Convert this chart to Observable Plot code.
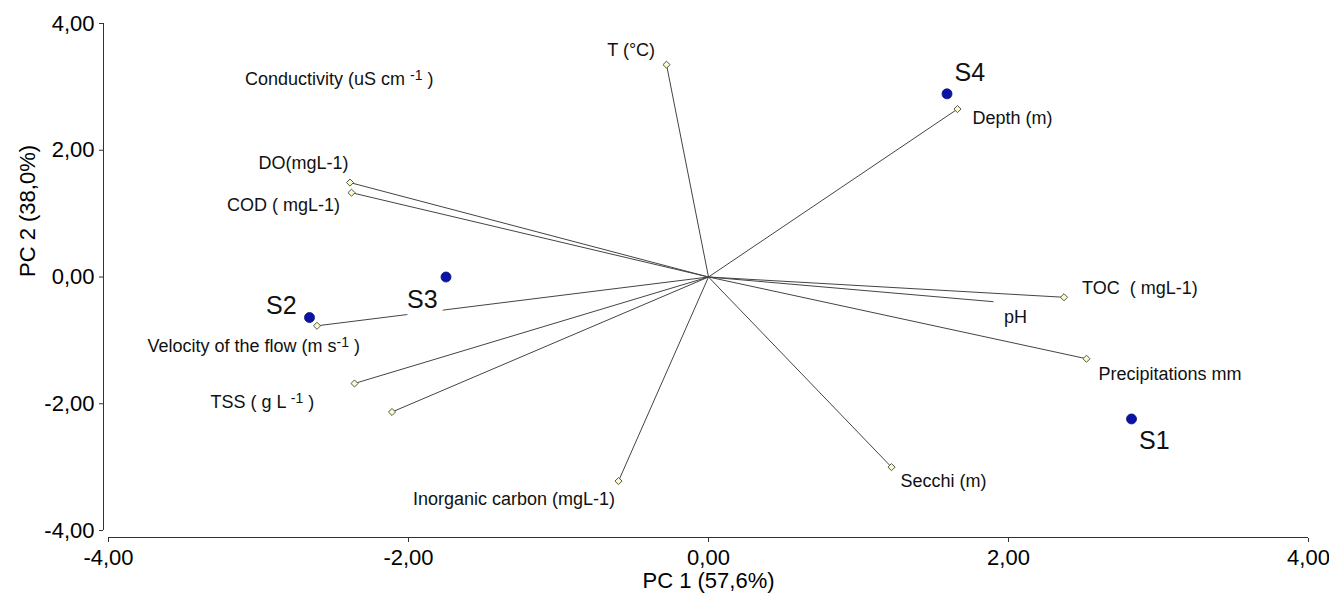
<!DOCTYPE html>
<html>
<head>
<meta charset="utf-8">
<script src="https://cdn.jsdelivr.net/npm/d3@7"></script>
<script src="https://cdn.jsdelivr.net/npm/@observablehq/plot@0.6"></script>
<style>
  html, body { margin: 0; padding: 0; background: #fff; }
  #chart svg { display: block; }
</style>
</head>
<body>
<div id="chart"></div>
<script>
// Axis ticks
const xTicks = [-4, -2, 0, 2, 4];
const yTicks = [-4, -2, 0, 2, 4];

// Sample sites (PCA scores)
const sites = ["S1", "S2", "S3", "S4"];
const siteX = [2.82, -2.66, -1.75, 1.59];
const siteY = [-2.24, -0.64, 0.0, 2.89];
const siteLabelX = [2.87, -2.95, -2.01, 1.64];
const siteLabelY = [-2.58, -0.45, -0.36, 3.22];

// Variable loadings (vector end points)
const vars = ["T", "Depth", "DO", "COD", "Velocity", "TSS", "Conductivity", "Inorganic carbon", "Secchi", "TOC", "pH", "Precipitations"];
const varX = [-0.28, 1.66, -2.39, -2.38, -2.61, -2.36, -2.11, -0.60, 1.22, 2.37, 1.90, 2.52];
const varY = [3.35, 2.65, 1.49, 1.33, -0.77, -1.68, -2.13, -3.22, -3.00, -0.32, -0.39, -1.29];
const varMarker = [true, true, true, true, true, true, true, true, true, true, false, true];

// Variable labels
const labelText = [
  "T (°C)",
  "Depth (m)",
  "Conductivity (uS cm \u207B\u00B9)",
  "DO(mgL-1)",
  "COD ( mgL-1)",
  "Velocity of the flow (m s\u207B\u00B9)",
  "TSS ( g L \u207B\u00B9)",
  "Inorganic carbon (mgL-1)",
  "Secchi (m)",
  "TOC \u00A0( mgL-1)",
  "pH",
  "Precipitations mm"
];
const labelX = [-0.675, 1.76, -3.09, -3.00, -3.21, -3.74, -3.32, -1.97, 1.28, 2.49, 1.97, 2.60];
const labelY = [3.58, 2.50, 3.12, 1.80, 1.14, -1.09, -1.98, -3.50, -3.22, -0.17, -0.63, -1.53];

const fmt = d => d.toFixed(2).replace(".", ",");
const font = "'Liberation Sans', Arial, Helvetica, sans-serif";
const axisColor = "#333";

const chart = Plot.plot({
  width: 1329,
  height: 598,
  marginLeft: 108,
  marginRight: 21,
  marginTop: 23,
  marginBottom: 68,
  style: { fontFamily: font, background: "#fff", color: "#000" },
  x: { domain: [-4, 4] },
  y: { domain: [-4, 4] },
  marks: [
    // y axis
    Plot.ruleX([-4], { y1: -4, y2: 4, dx: -5, stroke: axisColor }),
    Plot.axisY(yTicks, { tickFormat: fmt, tickSize: 4, tickPadding: 5, fontSize: 22, dx: -5, label: null, stroke: axisColor, fill: "#000" }),
    // x axis
    Plot.ruleY([-4], { x1: -4, x2: 4, dy: 7, stroke: axisColor }),
    Plot.axisX(xTicks, { tickFormat: fmt, tickSize: 4, tickPadding: 7, fontSize: 22, dy: 8, label: null, stroke: axisColor, fill: "#000" }),
    // axis titles
    Plot.text(["PC 1 (57,6%)"], { frameAnchor: "bottom", dy: 57, fontSize: 22, fill: "#000" }),
    Plot.text(["PC 2 (38,0%)"], { frameAnchor: "left", dx: -81, rotate: -90, fontSize: 22, fill: "#000" }),
    // loading vectors
    Plot.link(vars, { x1: () => 0, y1: () => 0, x2: varX, y2: varY, stroke: "#444", strokeWidth: 1 }),
    Plot.dot(vars, { x: varX, y: varY, filter: (d, i) => varMarker[i], symbol: "diamond2", r: 3.2, fill: "#fbfbc8", stroke: "#555", strokeWidth: 1 }),
    // sites
    Plot.dot(sites, { x: siteX, y: siteY, r: 5, fill: "#0a12a8", stroke: "#06107a", strokeWidth: 0.8 }),
    Plot.text(sites, { x: siteLabelX, y: siteLabelY, text: d => d, textAnchor: "start", fontSize: 25, fill: "#111", stroke: "#fff", strokeWidth: 16, paintOrder: "stroke", strokeLinejoin: "miter" }),
    // variable labels
    Plot.text(labelText, { x: labelX, y: labelY, text: d => d, textAnchor: "start", fontSize: 18, fill: "#111" })
  ]
});

// Render the "⁻¹" units as a raised superscript like the original
chart.querySelectorAll("text").forEach(t => {
  const s = t.textContent;
  const k = s.indexOf("\u207B\u00B9");
  if (k < 0 || t.children.length > 1) return;
  const target = t.querySelector("tspan") || t;
  const ns = "http://www.w3.org/2000/svg";
  target.textContent = "";
  target.appendChild(document.createTextNode(s.slice(0, k)));
  const sup = document.createElementNS(ns, "tspan");
  sup.setAttribute("baseline-shift", "35%");
  sup.setAttribute("font-size", "14");
  sup.textContent = "-1";
  target.appendChild(sup);
  target.appendChild(document.createTextNode(" " + s.slice(k + 2)));
});

document.getElementById("chart").appendChild(chart);
</script>
</body>
</html>
